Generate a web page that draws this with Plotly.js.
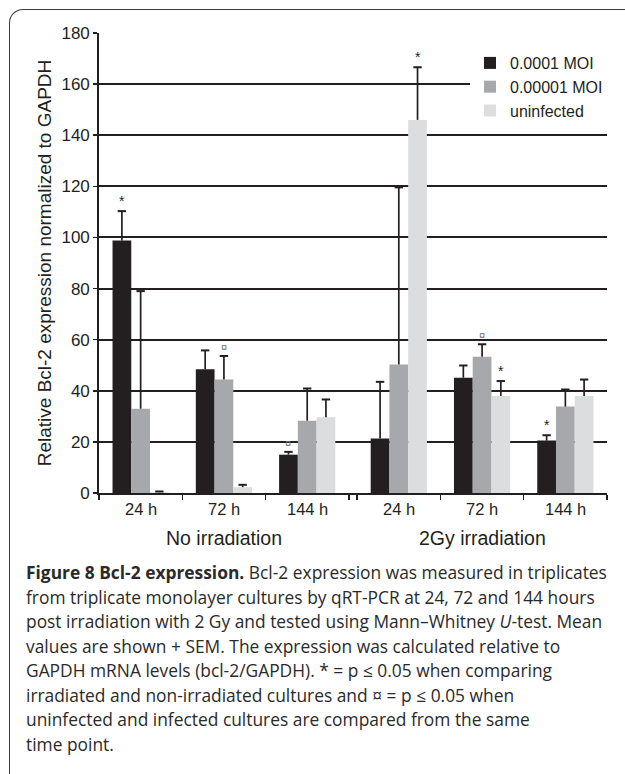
<!DOCTYPE html>
<html>
<head>
<meta charset="utf-8">
<script src="https://cdn.plot.ly/plotly-3.0.1.min.js"></script>
<style>
  html, body { margin: 0; padding: 0; background: #fff; overflow: hidden; }
  #wrap { position: relative; width: 625px; height: 774px; }
  #chart { position: absolute; left: 0; top: 0; width: 625px; height: 774px; }
  #frame { position: absolute; left: 9px; top: 9px; width: 800px; height: 900px;
           border-left: 1.6px solid #3c3c3c; border-top: 1.6px solid #3c3c3c;
           border-top-left-radius: 14px; pointer-events: none; box-sizing: border-box; }
</style>
</head>
<body>
<div id="wrap">
  <div id="chart"></div>
  <div id="frame"></div>
</div>
<script>
// ---------------- data ----------------
const categories = ['24 h', '72 h', '144 h', '24 h', '72 h', '144 h'];
const groupOf    = [0, 0, 0, 1, 1, 1];
const groupNames = ['No irradiation', '2Gy irradiation'];

const seriesNames = ['0.0001 MOI', '0.00001 MOI', 'uninfected'];
const moi4      = [98.8, 48.4, 15.0, 21.3, 45.1, 20.5];
const moi4Sem   = [11.5, 7.4, 1.1, 22.2, 4.8, 2.1];
const moi5      = [33.0, 44.4, 28.3, 50.3, 53.3, 33.8];
const moi5Sem   = [46.0, 9.2, 12.6, 69.3, 4.9, 6.7];
const uninf     = [0.3, 2.3, 29.6, 146.0, 38.0, 38.0];
const uninfSem  = [0.3, 0.9, 7.0, 20.6, 5.8, 6.4];

const moi4Sig  = ['*', '', '\u00a4', '', '', '*'];
const moi5Sig  = ['', '\u00a4', '', '', '\u00a4', ''];
const uninfSig = ['', '', '', '*', '*', ''];

const yTitle = 'Relative Bcl-2 expression normalized to GAPDH';
const captionLines = [
  '<b>Figure 8 Bcl-2 expression.</b> Bcl-2 expression was measured in triplicates',
  'from triplicate monolayer cultures by qRT-PCR at 24, 72 and 144 hours',
  'post irradiation with 2 Gy and tested using Mann\u2013Whitney <i>U</i>-test. Mean',
  'values are shown + SEM. The expression was calculated relative to',
  'GAPDH mRNA levels (bcl-2/GAPDH). * = p \u2264 0.05 when comparing',
  'irradiated and non-irradiated cultures and \u00a4 = p \u2264 0.05 when',
  'uninfected and infected cultures are compared from the same',
  'time point.'
];

// ---------------- layout constants ----------------
const W = 625, H = 774;
const plotL = 99, plotR = 607, plotT = 33, plotB = 493;
const groupGap = 0.1;
const bargap = 0.325;
const colors = ['#231f20', '#a6a8ab', '#dcdddf'];
const ink = '#231f20';
const chartFont = '"Liberation Sans", Arial, sans-serif';
const capFont = '"Open Sans", "Noto Sans", sans-serif';

const xpos = categories.map((c, i) => i + 0.5 + groupOf[i] * groupGap);
const xMax = categories.length + groupGap;
const boundaries = [];
for (let i = 0; i < categories.length; i++) {
  const left = i + groupOf[i] * groupGap;
  if (i === 0 || groupOf[i] !== groupOf[i - 1]) boundaries.push(left);
  boundaries.push(left + 1);
}

const pxX = px => (px - plotL) / (plotR - plotL);
const pxY = py => (plotB - py) / (plotB - plotT);

const vals = [moi4, moi5, uninf];
const sems = [moi4Sem, moi5Sem, uninfSem];
const sigs = [moi4Sig, moi5Sig, uninfSig];
const bw = (1 - bargap) / 3;

const traces = vals.map((v, k) => ({
  type: 'bar', name: seriesNames[k], x: xpos, y: v,
  marker: { color: colors[k], line: { width: 0 } },
  error_y: { type: 'data', symmetric: false, array: sems[k], arrayminus: v.map(() => 0),
             color: ink, thickness: 1.7, width: 0 },
  hoverinfo: 'skip'
}));
// caps only at the top end of each (+SEM) error bar
vals.forEach((v, k) => {
  traces.push({
    type: 'scatter', mode: 'markers', showlegend: false, hoverinfo: 'skip',
    x: xpos.map(x => x + (k - 1) * bw), y: v.map((y, i) => y + sems[k][i]),
    marker: { symbol: 'line-ew', size: 6, line: { width: 2, color: ink }, color: ink }
  });
});

const annotations = [];
sigs.forEach((s, k) => {
  s.forEach((m, i) => {
    if (!m) return;
    annotations.push({
      xref: 'x', yref: 'y', x: xpos[i] + (k - 1) * bw, y: vals[k][i] + sems[k][i],
      text: m, showarrow: false, yanchor: 'bottom', yshift: m === '*' ? 0 : 1,
      font: { family: chartFont, size: m === '*' ? 14 : 11, color: m === '*' ? ink : '#6d6e71' }
    });
  });
});

// tick labels (categories) and group labels
categories.forEach((c, i) => {
  annotations.push({ xref: 'x', yref: 'paper', x: xpos[i], y: pxY(509), text: c,
    showarrow: false, yanchor: 'middle', font: { family: chartFont, size: 16.5, color: ink } });
});
groupNames.forEach((g, gi) => {
  const idx = groupOf.map((v, i) => v === gi ? i : -1).filter(i => i >= 0);
  const cx = (xpos[idx[0]] + xpos[idx[idx.length - 1]]) / 2;
  annotations.push({ xref: 'x', yref: 'paper', x: cx, y: pxY(538), text: g,
    showarrow: false, yanchor: 'middle', font: { family: chartFont, size: 19.5, color: ink } });
});

// caption: fit font size to the measured width of line 2
const cnv = document.createElement('canvas').getContext('2d');
cnv.font = '100px "Open Sans"';
const w2 = cnv.measureText(captionLines[1]).width;
const capSize = Math.min(18, 100 * 569 / w2);
const capY0 = 572, capDy = 24.5;
captionLines.forEach((t, i) => {
  annotations.push({ xref: 'paper', yref: 'paper', x: pxX(24), y: pxY(capY0 + i * capDy),
    xanchor: 'left', yanchor: 'middle', align: 'left', text: t, showarrow: false,
    font: { family: capFont, size: capSize, color: '#2a2a2a' } });
});

const layout = {
  width: W, height: H,
  margin: { l: plotL, r: W - plotR, t: plotT, b: H - plotB, pad: 0 },
  paper_bgcolor: 'rgba(0,0,0,0)', plot_bgcolor: '#fff',
  barmode: 'group', bargap: bargap, bargroupgap: 0,
  showlegend: true,
  legend: { x: pxX(470), y: pxY(46), xanchor: 'left', yanchor: 'top', bgcolor: '#fff',
            font: { family: chartFont, size: 16, color: ink }, tracegroupgap: 0 },
  xaxis: { range: [0, xMax], tickvals: boundaries, ticktext: boundaries.map(() => ''),
           ticks: 'outside', ticklen: 5, tickwidth: 1.5, tickcolor: ink,
           showline: true, linecolor: ink, linewidth: 1.8, showgrid: false, zeroline: false,
           fixedrange: true },
  yaxis: { range: [0, 180], dtick: 20, tick0: 0, ticks: 'outside', ticklen: 4, tickwidth: 1.5,
           tickcolor: ink, showline: true, linecolor: ink, linewidth: 1.8,
           showgrid: true, gridcolor: ink, gridwidth: 2, zeroline: false,
           tickfont: { family: chartFont, size: 17, color: ink },
           title: { text: yTitle, font: { family: chartFont, size: 19, color: ink }, standoff: 5 },
           automargin: false, fixedrange: true },
  annotations: annotations
};

Plotly.newPlot('chart', traces, layout, { displayModeBar: false, staticPlot: true });
</script>
</body>
</html>
